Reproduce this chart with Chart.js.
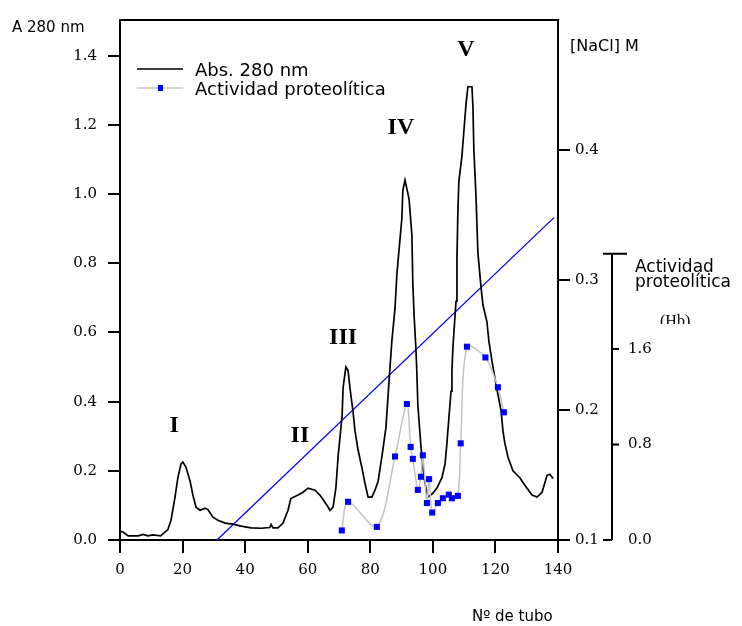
<!DOCTYPE html>
<html>
<head>
<meta charset="utf-8">
<script src="https://cdn.jsdelivr.net/npm/chart.js@4.4.1/dist/chart.umd.min.js"></script>
<style>
  html, body { margin: 0; padding: 0; background: #fff; }
  #wrap { width: 742px; height: 626px; }
</style>
</head>
<body>
<div id="wrap"><canvas id="chart" width="742" height="626"></canvas></div>
<script>
// Abs. 280 nm trace (tube number / absorbance)
const absTubes = [0, 1, 2.6, 5.8, 7.4, 8.9, 10.5, 13, 15.3, 16.3, 17.6, 18.5, 19.5, 20.1, 21.1, 22.4, 23.3, 24.3, 25.6, 27.2,
    28.1, 29.7, 31.3, 33.6, 36.1, 38.7, 41.9, 45.1, 47.9, 48.3, 48.9, 50.5, 52.1, 53.7, 54.6, 56.9, 58.5, 60.1, 62.3, 63.9,
    66.2, 67.1, 68.1, 69.0, 69.7, 71.0, 71.3, 72.2, 72.9, 73.5, 74.5, 75.1, 76.1, 77.3, 78.3, 79.3, 80.5, 81.5, 82.5, 83.7,
    85.0, 86.0, 86.9, 87.9, 88.5, 89.2, 90.1, 90.4, 91.1, 91.7, 92.4, 93.3, 93.6, 94.0, 94.6, 94.9, 95.2, 96.2, 96.8, 97.5,
    98.4, 100.0, 101.3, 102.9, 103.9, 104.5, 105.1, 105.8, 106.1, 106.4, 107.4, 107.7, 108.0, 108.3, 109.3, 109.9, 110.6, 111.2, 112.5, 112.8,
    113.1, 113.8, 114.4, 115.4, 116.0, 117.3, 117.9, 118.9, 119.8, 120.8, 121.8, 122.4, 123.0, 124.0, 125.6, 127.8, 129.4, 131.7, 133.3, 134.9,
    136.5, 137.4, 138.4];
const absValues = [0.025, 0.023, 0.012, 0.012, 0.016, 0.012, 0.015, 0.012, 0.03, 0.057, 0.125, 0.18, 0.22, 0.225, 0.21, 0.17, 0.13, 0.095, 0.086, 0.092,
    0.088, 0.066, 0.057, 0.049, 0.046, 0.04, 0.035, 0.034, 0.036, 0.045, 0.035, 0.035, 0.049, 0.086, 0.12, 0.13, 0.138, 0.15, 0.144, 0.13,
    0.10, 0.086, 0.095, 0.15, 0.24, 0.36, 0.44, 0.50, 0.49, 0.44, 0.37, 0.316, 0.26, 0.21, 0.164, 0.124, 0.124, 0.144, 0.17, 0.24,
    0.325, 0.46, 0.575, 0.67, 0.767, 0.84, 0.93, 1.01, 1.04, 1.015, 0.985, 0.88, 0.74, 0.65, 0.55, 0.48, 0.39, 0.27, 0.21, 0.164,
    0.124, 0.135, 0.15, 0.18, 0.22, 0.28, 0.35, 0.43, 0.49, 0.555, 0.69, 0.81, 0.95, 1.035, 1.11, 1.18, 1.26, 1.31, 1.31, 1.255,
    1.13, 0.99, 0.83, 0.73, 0.68, 0.63, 0.575, 0.517, 0.47, 0.42, 0.374, 0.316, 0.28, 0.24, 0.20, 0.18, 0.158, 0.13, 0.124, 0.138,
    0.187, 0.19, 0.178];

// Actividad proteolítica (Hb)
const actTubes = [70.9, 72.9, 82.1, 87.9, 91.7, 92.9, 93.6, 95.2, 96.2, 96.8, 98.1, 98.8, 99.8, 101.6, 103.2, 105.1, 106.1, 108.0, 108.9, 110.9, 116.8, 120.8, 122.7];
const actValues = [0.08, 0.32, 0.11, 0.70, 1.14, 0.78, 0.68, 0.42, 0.53, 0.71, 0.31, 0.51, 0.23, 0.31, 0.35, 0.38, 0.35, 0.37, 0.81, 1.62, 1.53, 1.28, 1.07];

// NaCl gradient
const naclTubes = [31, 138.7];
const naclValues = [0.1, 0.348];

// axes
const xTicks = [0, 20, 40, 60, 80, 100, 120, 140];
const absTicks = [0, 0.2, 0.4, 0.6, 0.8, 1.0, 1.2, 1.4];
const naclTicks = [0.1, 0.2, 0.3, 0.4];
const actTicks = [0, 0.8, 1.6];
const actAxisTop = 2.4;

// peak labels
const peakNames = ["I", "II", "III", "IV", "V"];
const peakTubes = [17.3, 57.5, 71.3, 89.8, 110.6];
const peakAbs = [0.33, 0.30, 0.583, 1.19, 1.417];

const SANS = "'DejaVu Sans', Arial, sans-serif";
const SERIF = "'DejaVu Serif', 'Times New Roman', serif";
const ROMAN = "'Liberation Serif', 'Times New Roman', serif";

function toPoints(xs, ys) {
    return xs.map((x, i) => ({ x: x, y: ys[i] }));
}

function fixedTicks(values) {
    return function(scale) {
        scale.ticks = values.map(v => ({ value: v }));
    };
}

// Extra drawing: frame, activity axis, labels, legend
const extras = {
    id: "extras",
    afterDraw(chart) {
        const ctx = chart.ctx;
        const area = chart.chartArea;
        const x = chart.scales.x;
        const y = chart.scales.y;
        const y2 = chart.scales.y2;
        ctx.save();

        // top frame line
        ctx.strokeStyle = "#000";
        ctx.lineWidth = 2;
        ctx.beginPath();
        ctx.moveTo(area.left - 1, area.top);
        ctx.lineTo(area.right + 1, area.top);
        ctx.stroke();

        // activity axis
        const ax = 612;
        const yb = y2.getPixelForValue(0);
        const yt = y2.getPixelForValue(actAxisTop);
        ctx.beginPath();
        ctx.moveTo(ax, yb);
        ctx.lineTo(ax, yt);
        ctx.moveTo(ax - 9, yt);
        ctx.lineTo(ax + 15, yt);
        ctx.moveTo(ax - 9, yb);
        ctx.lineTo(ax, yb);
        actTicks.forEach(v => {
            if (v === 0) return;
            const py = y2.getPixelForValue(v);
            ctx.moveTo(ax, py);
            ctx.lineTo(ax + 7, py);
        });
        ctx.stroke();
        ctx.fillStyle = "#000";
        ctx.font = "15px " + SERIF;
        ctx.textAlign = "left";
        ctx.textBaseline = "middle";
        actTicks.forEach(v => {
            ctx.fillText(v.toFixed(1), ax + 16, y2.getPixelForValue(v));
        });

        // axis titles
        ctx.textBaseline = "alphabetic";
        ctx.font = "15px " + SANS;
        ctx.fillText("A 280 nm", 12, 32);
        ctx.font = "16px " + SANS;
        ctx.fillText("[NaCl] M", 570, 51);
        ctx.font = "15px " + SANS;
        ctx.fillText("Nº de tubo", 472, 621);
        ctx.font = "17px " + SANS;
        ctx.fillText("Actividad", 635, 272);
        ctx.fillText("proteolítica", 635, 287);
        ctx.save();
        ctx.beginPath();
        ctx.rect(640, 300, 80, 24);
        ctx.clip();
        ctx.font = "16px " + ROMAN;
        ctx.fillText("(Hb)", 660, 326);
        ctx.restore();

        // peak labels
        ctx.font = "bold 24px " + ROMAN;
        ctx.textAlign = "center";
        ctx.textBaseline = "middle";
        peakNames.forEach((name, i) => {
            ctx.fillText(name, x.getPixelForValue(peakTubes[i]), y.getPixelForValue(peakAbs[i]));
        });

        // legend
        ctx.lineWidth = 1.6;
        ctx.strokeStyle = "#000";
        ctx.beginPath();
        ctx.moveTo(137, 69);
        ctx.lineTo(183, 69);
        ctx.stroke();
        ctx.strokeStyle = "#c4c4c4";
        ctx.lineWidth = 1.5;
        ctx.beginPath();
        ctx.moveTo(137, 88);
        ctx.lineTo(183, 88);
        ctx.stroke();
        ctx.fillStyle = "#0000ff";
        ctx.fillRect(158, 85, 5, 6);
        ctx.fillStyle = "#000";
        ctx.textAlign = "left";
        ctx.textBaseline = "alphabetic";
        ctx.font = "18px " + SANS;
        ctx.fillText("Abs. 280 nm", 195, 76);
        ctx.fillText("Actividad proteolítica", 195, 95);

        ctx.restore();
    }
};

const axisGrid = { drawOnChartArea: false, color: "#000", lineWidth: 2, tickLength: 12 };
const axisBorder = { color: "#000", width: 2 };
const tickFont = { family: SERIF, size: 15 };

new Chart(document.getElementById("chart"), {
    type: "line",
    data: {
        datasets: [
            {
                label: "Actividad proteolítica",
                data: toPoints(actTubes, actValues),
                yAxisID: "y2",
                borderColor: "#c4c4c4",
                borderWidth: 1.5,
                tension: 0.3,
                pointStyle: "rect",
                pointRadius: 4.3,
                pointBorderWidth: 0,
                pointBackgroundColor: "#0000ff",
                pointBorderColor: "#0000ff",
                order: 0
            },
            {
                label: "Abs. 280 nm",
                data: toPoints(absTubes, absValues),
                yAxisID: "y",
                borderColor: "#000",
                borderWidth: 1.7,
                tension: 0,
                pointRadius: 0,
                order: 1
            },
            {
                label: "[NaCl] M",
                data: toPoints(naclTubes, naclValues),
                yAxisID: "y1",
                borderColor: "#0000ff",
                borderWidth: 1.3,
                tension: 0,
                pointRadius: 0,
                order: 2
            }
        ]
    },
    options: {
        responsive: false,
        animation: false,
        layout: { padding: { top: 17, left: 0, right: 0, bottom: 0 } },
        plugins: {
            legend: { display: false },
            tooltip: { enabled: false }
        },
        scales: {
            x: {
                type: "linear",
                min: 0,
                max: 140,
                afterBuildTicks: fixedTicks(xTicks),
                afterFit: s => { s.height = 86; },
                grid: Object.assign({}, axisGrid, { tickLength: 13 }),
                border: axisBorder,
                ticks: {
                    color: "#000",
                    font: tickFont,
                    padding: 8,
                    maxRotation: 0,
                    callback: v => String(v)
                }
            },
            y: {
                position: "left",
                min: 0,
                max: 1.503,
                afterBuildTicks: fixedTicks(absTicks),
                afterFit: s => { s.width = 120; },
                grid: axisGrid,
                border: axisBorder,
                ticks: {
                    color: "#000",
                    font: tickFont,
                    padding: 11,
                    callback: v => v.toFixed(1)
                }
            },
            y1: {
                position: "right",
                min: 0.1,
                max: 0.5,
                afterBuildTicks: fixedTicks(naclTicks),
                afterFit: s => { s.width = 184; },
                grid: axisGrid,
                border: axisBorder,
                ticks: {
                    color: "#000",
                    font: tickFont,
                    padding: 5,
                    callback: v => v.toFixed(1)
                }
            },
            y2: {
                display: false,
                position: "right",
                min: 0,
                max: 4.358
            }
        }
    },
    plugins: [extras]
});
</script>
</body>
</html>
